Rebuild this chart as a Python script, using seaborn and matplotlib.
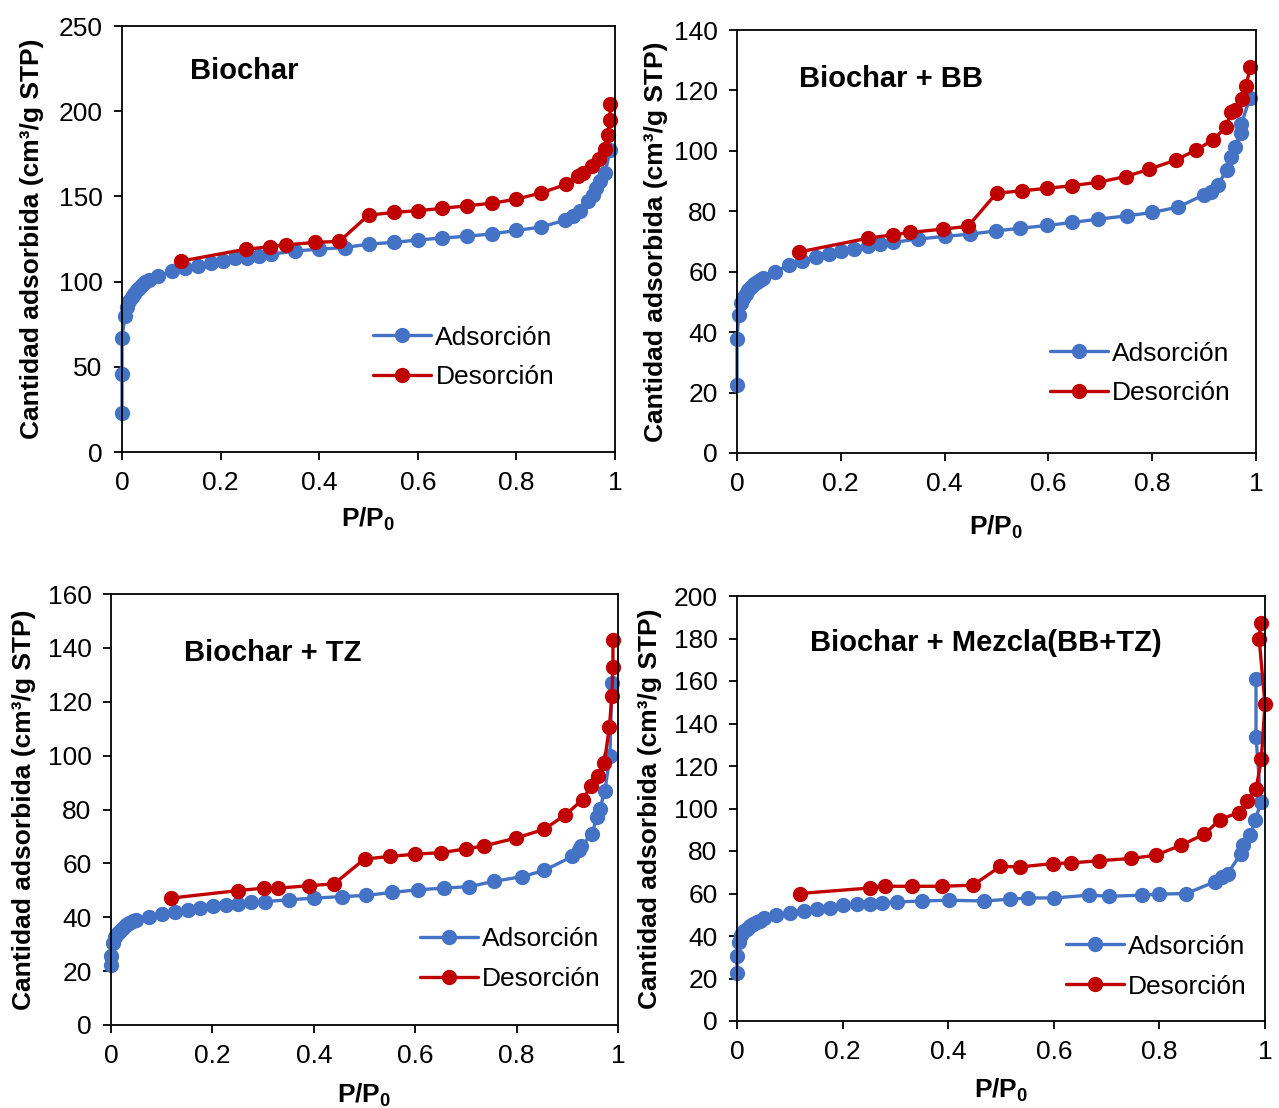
import numpy as np
import pandas as pd
import seaborn as sns
import matplotlib
matplotlib.use('Agg')
import matplotlib.pyplot as plt
from matplotlib.ticker import FuncFormatter

# ---- data (P/P0, cm3/g STP) ----
bio_ads_x = [0, 0, 0, 0.006, 0.01, 0.015, 0.02, 0.025, 0.03, 0.035, 0.04, 0.047, 0.055,
             0.073, 0.102, 0.127, 0.154, 0.18, 0.205, 0.229, 0.253, 0.277, 0.303, 0.351,
             0.4, 0.452, 0.501, 0.551, 0.6, 0.65, 0.7, 0.75, 0.8, 0.849, 0.899, 0.914,
             0.928, 0.945, 0.955, 0.962, 0.969, 0.98, 0.99]
bio_ads_y = [23, 45.7, 67, 79.7, 85, 88.5, 91, 93, 95, 96.5, 98, 99.5, 101,
             103, 106, 108, 109.4, 111, 112, 113.7, 114, 115, 116, 118,
             119, 120, 122, 123, 124.4, 125.6, 126.6, 128, 130, 132, 136, 138.7,
             141.6, 147.5, 151, 155, 159, 164, 177]
bio_des_x = [0.99, 0.99, 0.985, 0.98, 0.968, 0.953, 0.935, 0.924, 0.9, 0.85, 0.8, 0.751,
             0.7, 0.65, 0.6, 0.551, 0.5, 0.441, 0.391, 0.332, 0.3, 0.251, 0.119]
bio_des_y = [204, 195, 186, 177.7, 172, 168, 164, 162, 157, 152, 148.4, 146,
             144.5, 143, 141.6, 140.6, 139, 123.6, 123, 121.5, 120.5, 119, 112]

bb_ads_x = [0, 0, 0.003, 0.008, 0.012, 0.017, 0.022, 0.027, 0.032, 0.038, 0.044, 0.05,
            0.074, 0.101, 0.126, 0.152, 0.177, 0.2, 0.226, 0.252, 0.276, 0.3, 0.349,
            0.4, 0.448, 0.499, 0.546, 0.597, 0.646, 0.696, 0.752, 0.8, 0.85, 0.899,
            0.914, 0.926, 0.944, 0.951, 0.959, 0.972, 0.972, 0.988]
bb_ads_y = [22.6, 37.7, 45.6, 49.6, 51.2, 52.6, 53.8, 54.9, 55.8, 56.7, 57.4, 57.9,
            60, 62.3, 63.7, 64.8, 65.9, 66.9, 67.6, 68.4, 69.1, 69.7, 70.8,
            71.7, 72.4, 73.5, 74.4, 75.3, 76.3, 77.4, 78.5, 79.6, 81.4, 85.4,
            86.5, 88.8, 93.5, 97.9, 101.4, 106, 109, 117.4]
bb_des_x = [0.989, 0.981, 0.973, 0.96, 0.951, 0.943, 0.917, 0.885, 0.846, 0.794, 0.749,
            0.696, 0.646, 0.598, 0.55, 0.5, 0.445, 0.396, 0.334, 0.3, 0.252, 0.119]
bb_des_y = [127.9, 121.6, 117.2, 113.6, 112.7, 108, 103.6, 100.3, 97, 93.9, 91.5,
            89.6, 88.5, 87.6, 86.8, 86, 75, 74.1, 73, 72.2, 71.1, 66.5]

tz_ads_x = [0, 0, 0.003, 0.008, 0.013, 0.018, 0.024, 0.03, 0.036, 0.043, 0.05,
            0.074, 0.1, 0.126, 0.151, 0.176, 0.202, 0.227, 0.251, 0.277, 0.303, 0.352,
            0.401, 0.456, 0.503, 0.554, 0.605, 0.656, 0.707, 0.755, 0.811, 0.855,
            0.91, 0.923, 0.927, 0.949, 0.958, 0.964, 0.974, 0.984, 0.988]
tz_ads_y = [22.3, 25.7, 30.6, 32.5, 34, 35, 36, 37, 37.8, 38.5, 39,
            40, 41.1, 42.1, 42.8, 43.6, 44.2, 44.6, 45, 45.6, 45.8, 46.5,
            47.1, 47.7, 48.1, 49.2, 50.2, 50.8, 51.4, 53.3, 55.1, 57.4,
            62.6, 65, 66.3, 71, 77.2, 80.2, 86.7, 99.8, 126.8]
tz_des_x = [0.99, 0.99, 0.988, 0.983, 0.973, 0.96, 0.947, 0.93, 0.896, 0.855, 0.799,
            0.736, 0.701, 0.651, 0.599, 0.551, 0.5, 0.44, 0.39, 0.33, 0.301, 0.25, 0.118]
tz_des_y = [142.8, 133, 122.3, 110.7, 97.3, 92.3, 88.8, 83.6, 78, 72.7, 69.4,
            66.5, 65.4, 64, 63.4, 62.6, 61.6, 52.4, 51.7, 50.8, 50.8, 49.9, 47.1]

mix_ads_x = [0, 0, 0.003, 0.008, 0.013, 0.018, 0.024, 0.03, 0.037, 0.044, 0.052,
             0.074, 0.1, 0.126, 0.151, 0.177, 0.201, 0.227, 0.252, 0.275, 0.303, 0.351,
             0.401, 0.468, 0.517, 0.552, 0.601, 0.666, 0.705, 0.767, 0.8, 0.851,
             0.905, 0.918, 0.929, 0.955, 0.958, 0.972, 0.982, 0.992, 0.983, 0.983]
mix_ads_y = [22.6, 30.6, 37.2, 40.3, 42.2, 43.5, 44.6, 45.5, 46.4, 47.1, 48.7,
             49.8, 51, 51.8, 52.6, 53.4, 54.5, 54.9, 54.9, 55.7, 56, 56.5,
             56.8, 56.5, 57.3, 57.9, 57.9, 59.2, 58.7, 59.2, 59.7, 60,
             65.5, 67.8, 69.4, 78.8, 82.7, 87.4, 94.8, 103.1, 133.8, 161]
mix_des_x = [0.992, 0.989, 1.0, 0.993, 0.983, 0.966, 0.95, 0.915, 0.885, 0.841, 0.793,
             0.747, 0.685, 0.633, 0.599, 0.536, 0.499, 0.447, 0.388, 0.331, 0.281,
             0.252, 0.119]
mix_des_y = [187.4, 179.6, 149.1, 123.2, 109, 103.6, 98.1, 94.8, 87.9, 82.7, 78,
             76.5, 75.4, 74.4, 74.1, 72.5, 72.8, 63.9, 63.4, 63.4, 63.4, 62.6, 60]

titles = ['Biochar', 'Biochar + BB', 'Biochar + TZ', 'Biochar + Mezcla(BB+TZ)']
ymax = [250, 140, 160, 200]
ystep = [50, 20, 20, 20]
series = [(bio_ads_x, bio_ads_y, bio_des_x, bio_des_y),
          (bb_ads_x, bb_ads_y, bb_des_x, bb_des_y),
          (tz_ads_x, tz_ads_y, tz_des_x, tz_des_y),
          (mix_ads_x, mix_ads_y, mix_des_x, mix_des_y)]

sns.set_theme(style='white')
plt.rcParams['font.family'] = ['Liberation Sans', 'DejaVu Sans']
plt.rcParams['mathtext.fontset'] = 'custom'
plt.rcParams['mathtext.rm'] = 'Liberation Sans'
plt.rcParams['mathtext.bf'] = 'Liberation Sans:bold'
for k in ['text.color', 'axes.labelcolor', 'xtick.color', 'ytick.color']:
    plt.rcParams[k] = 'black'

blue = '#4472C4'
red = '#C00000'

fig = plt.figure(figsize=(12.79, 11.08), dpi=100)
# axes boxes in pixels: left, top, right, bottom
boxes = [(122, 26, 615, 452), (737, 30, 1256, 453), (111, 594, 618, 1025), (737, 596, 1265, 1021)]
title_pos = [(0.138, 0.894), (0.119, 0.884), (0.144, 0.863), (0.138, 0.889)]
leg_pos = [(0.51, 0.222), (0.603, 0.188), (0.609, 0.153), (0.623, 0.128)]
ylab_x = [-0.158, -0.133, -0.148, -0.142]
xlab_y = [-0.127, -0.144, -0.132, -0.132]

for i, (l, t, r, b) in enumerate(boxes):
    ax = fig.add_axes([l / 1279, 1 - b / 1108, (r - l) / 1279, (b - t) / 1108])
    ax_x, ax_y, de_x, de_y = series[i]
    df_a = pd.DataFrame({'p': ax_x, 'v': ax_y})
    df_d = pd.DataFrame({'p': de_x, 'v': de_y})
    sns.lineplot(data=df_a, x='p', y='v', ax=ax, sort=False, estimator=None,
                 color=blue, marker='o', markersize=11, markeredgewidth=0,
                 linewidth=2.4, label='Adsorción', clip_on=False)
    sns.lineplot(data=df_d, x='p', y='v', ax=ax, sort=False, estimator=None,
                 color=red, marker='o', markersize=11, markeredgewidth=0,
                 linewidth=2.4, label='Desorción', clip_on=False)
    ax.set_xlim(0, 1)
    ax.set_ylim(0, ymax[i])
    ax.set_xticks(np.arange(0, 1.01, 0.2))
    ax.set_yticks(np.arange(0, ymax[i] + 1, ystep[i]))
    ax.xaxis.set_major_formatter(FuncFormatter(lambda v, p: f'{v:g}'))
    for s in ax.spines.values():
        s.set_color('black')
        s.set_linewidth(1.3)
    ax.tick_params(axis='both', direction='out', length=6, width=1.3, colors='black',
                   labelsize=19, left=True, bottom=True)
    ax.tick_params(axis='x', pad=8)
    ax.tick_params(axis='y', pad=8)
    ax.set_xlabel(r'$\mathbf{P/P_0}$', fontsize=19)
    ax.set_ylabel('Cantidad adsorbida (cm³/g STP)', fontsize=19, fontweight='bold')
    ax.yaxis.set_label_coords(ylab_x[i], 0.5)
    ax.xaxis.set_label_coords(0.5, xlab_y[i])
    ax.text(title_pos[i][0], title_pos[i][1], titles[i], transform=ax.transAxes,
            fontsize=21, fontweight='bold', ha='left', va='center')
    ax.legend(loc='center left', bbox_to_anchor=leg_pos[i], frameon=False, fontsize=19,
              handlelength=2.2, handletextpad=0.15, borderpad=0, borderaxespad=0,
              labelspacing=0.6)

fig.savefig('out.png', dpi=100)
